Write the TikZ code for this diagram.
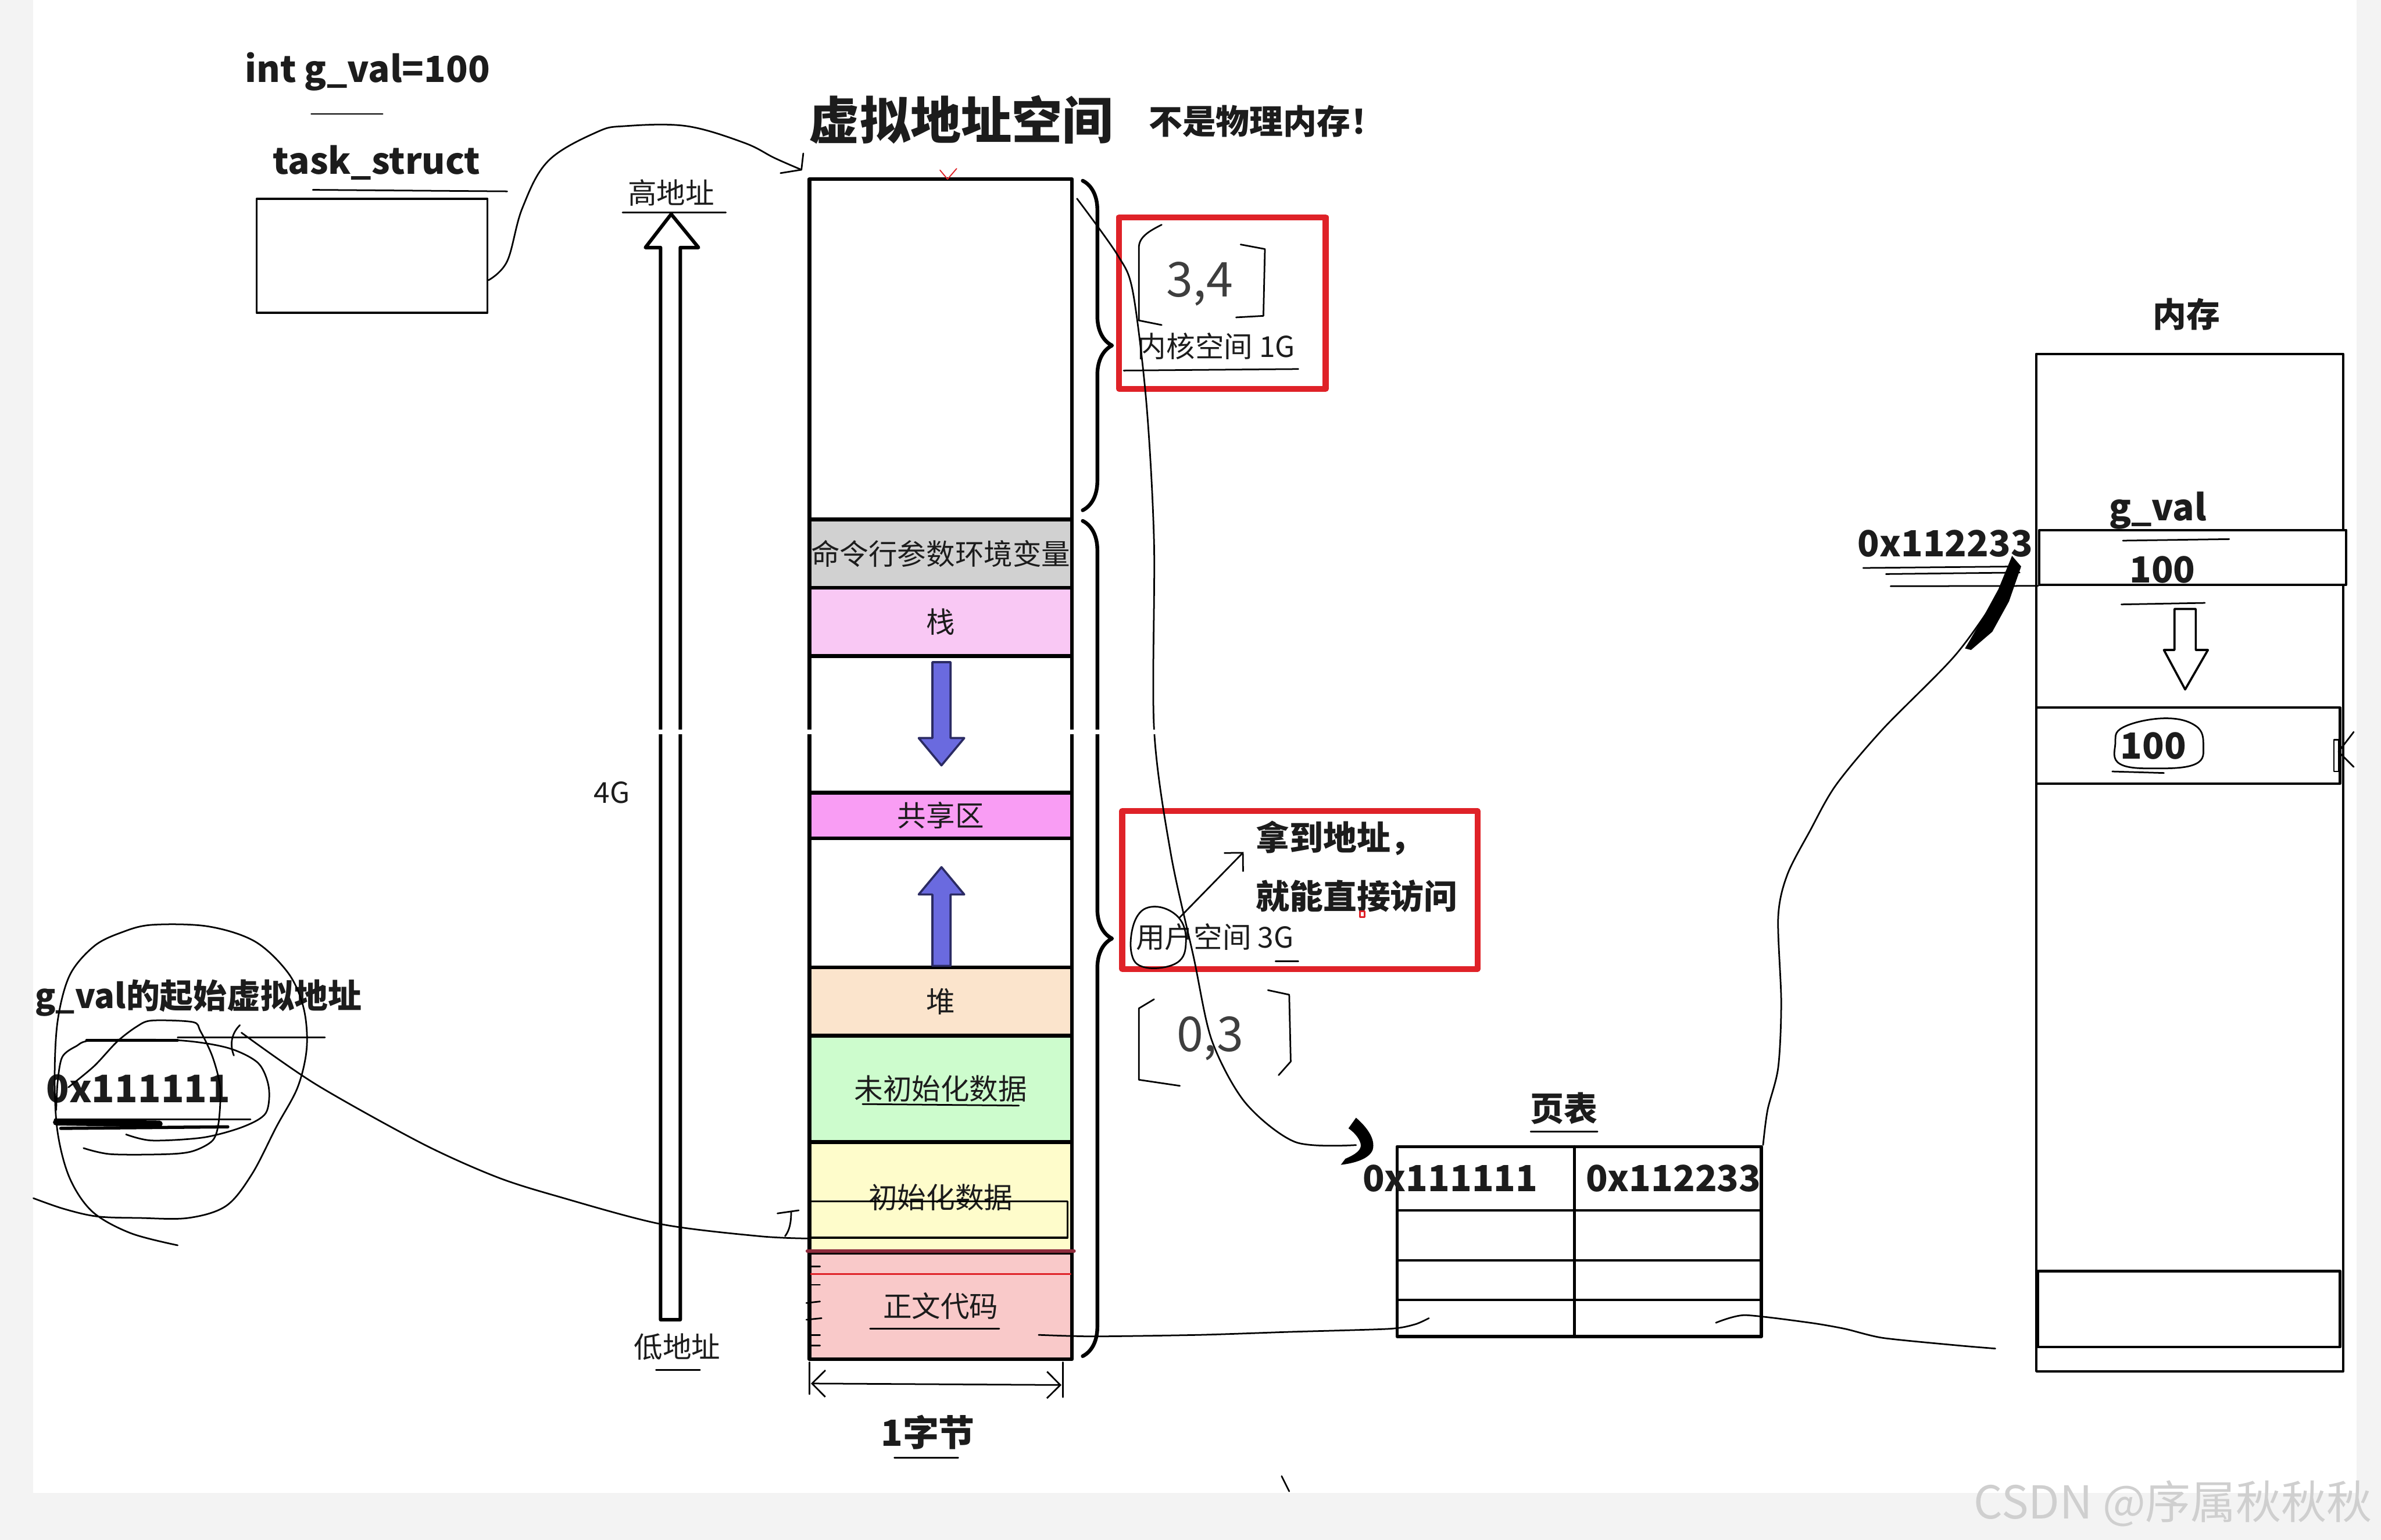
\documentclass[tikz,border=0pt]{standalone}
\usepackage{fontspec}
\setmainfont{Noto Sans CJK SC}
\usepackage{tikz}
\usetikzlibrary{arrows.meta,calc,decorations.pathreplacing}
\definecolor{vaink}{HTML}{1C1C1C}
\definecolor{vared}{HTML}{DF2228}
\definecolor{vadred}{HTML}{8E2B3C}
\definecolor{vacmd}{HTML}{D1D1D1}
\definecolor{vastack}{HTML}{F9C8F4}
\definecolor{vashare}{HTML}{F99DF4}
\definecolor{vaheap}{HTML}{FBE4CC}
\definecolor{vabss}{HTML}{CDFCCD}
\definecolor{vadata}{HTML}{FEFCCB}
\definecolor{vacode}{HTML}{F9C9C9}
\definecolor{vablue}{HTML}{6A6ADF}
\definecolor{vanavy}{HTML}{2B2B63}
\definecolor{vaframe}{HTML}{F3F3F3}
\definecolor{vamark}{HTML}{CFCFCF}

\begin{document}
\begin{tikzpicture}[x=0.02cm,y=-0.02cm,line cap=round,line join=round,
  text=vaink,
  boldlbl/.style={font=\bfseries\fontsize{13.5}{15}\selectfont,inner sep=1pt},
  midlbl/.style={font=\bfseries\fontsize{12.6}{14}\selectfont,inner sep=1pt},
  plainlbl/.style={font=\fontsize{10.8}{12}\selectfont,inner sep=1pt},
  handlbl/.style={font=\fontsize{18}{19}\selectfont,inner sep=0pt,text=vaink!85},
  seg/.style={draw,line width=1.4pt,minimum width={173*0.02cm},inner sep=0pt,
    font=\fontsize{10.8}{12}\selectfont},
  ink/.style={line width=0.6pt},
  cellbox/.style={draw,line width=0.9pt,inner sep=0pt},
  hollow/.style={draw,line width=1.3pt,fill=white},
  brc/.style={decorate,decoration={brace,amplitude=11pt},line width=1.4pt},
  redbox/.style={draw=vared,line width=2.2pt},
  blue/.style={fill=vablue,draw=vanavy,line width=0.8pt}]
\path[use as bounding box] (0,0) rectangle (1568,1014);
\fill[vaframe] (0,0) rectangle (1568,1014);
\fill[white] (22,0) rectangle (1552,983);

% 标题
\node[font=\bfseries\fontsize{19}{20}\selectfont] (vas) at (633,79) {虚拟地址空间};
\node[midlbl] (notpm) at (834,80) {不是物理内存！};

% task_struct
\node[boldlbl] (intg) at (242,47) {int g\_val=100};
\draw[ink] (205,75) -- (252,75);
\node[boldlbl] (tsname) at (248,107) {task\_struct};
\draw[ink] (206,125) -- (334,126);
\node[cellbox,line width=0.8pt,minimum width={152*0.02cm},minimum height={75*0.02cm}] (ts) at (245,168.5) {};

% 高低地址箭头
\node[plainlbl] (hi) at (442,127) {高地址};
\draw[ink] (410,140) -- (478,140);
\draw[hollow] (435,869) -- (435,163) -- (425,163) -- (442,141) -- (460,163) -- (448,163) -- (448,869) -- cycle;
\node[plainlbl] (fourg) at (403,522) {4G};
\node[plainlbl] (lo) at (446,887) {低地址};
\draw[ink] (432,902) -- (461,902);

% 虚拟地址空间各区
\node[seg,minimum height={224*0.02cm}] (kern) at (619.5,230) {};
\node[seg,fill=vacmd,minimum height={45*0.02cm}] (cmd) at (619.5,364.5) {命令行参数环境变量};
\node[seg,fill=vastack,minimum height={45*0.02cm}] (stk) at (619.5,409.5) {栈};
\node[seg,minimum height={90*0.02cm}] (gapa) at (619.5,477) {};
\node[seg,fill=vashare,minimum height={30*0.02cm}] (shr) at (619.5,537) {共享区};
\node[seg,minimum height={85*0.02cm}] (gapb) at (619.5,594.5) {};
\node[seg,fill=vaheap,minimum height={45*0.02cm}] (heap) at (619.5,659.5) {堆};
\node[seg,fill=vabss,minimum height={70*0.02cm}] (bss) at (619.5,717) {未初始化数据};
\node[seg,fill=vadata,minimum height={73*0.02cm}] (data) at (619.5,788.5) {初始化数据};
\node[seg,fill=vacode,minimum height={70*0.02cm}] (code) at (619.5,860) {正文代码};
\draw[line width=1.4pt,vadred] (code.north west) -- (code.north east);
\draw[vared,line width=0.6pt] (534,839) -- (705,839);
\draw[line width=0.7pt] (534,791) -- (703,791) -- (703,815) -- (534,815);
\draw[ink] (568,727) -- (671,728);
\draw[ink] (573,875) -- (658,875);
\draw[ink] (533,834) -- (540,834);
\draw[ink] (533,846) -- (540,846);
\draw[ink] (531,858) -- (540,857);
\draw[ink] (531,869) -- (541,868);
\draw[ink] (533,879) -- (540,879);
\draw[ink] (533,886) -- (540,886);
\draw[blue] (614,436) -- (626,436) -- (626,486) -- (635,486) -- (620,504) -- (605,486) -- (614,486) -- cycle;
\draw[blue] (614,636) -- (626,636) -- (626,589) -- (635,589) -- (620,571) -- (605,589) -- (614,589) -- cycle;
\draw[vared,line width=0.4pt] (619,112) -- (624,118) -- (630,111);

% 宽度 1字节
\draw[ink] (533,897) -- (533,918);
\draw[ink] (700,897) -- (700,920);
\draw[ink,{Straight Barb[length=5pt]}-{Straight Barb[length=5pt]}] (534,911) -- (699,912);
\node[boldlbl] (byte) at (611,943) {1字节};
\draw[ink] (589,960) -- (631,960);

% 内核/用户空间
\draw[brc] (713,119) -- (713,336);
\draw[brc] (713,343) -- (713,893);
\draw[redbox] (737,143) rectangle (873,256);
\draw[ink] (765,148) .. controls (757,152) and (750,156) .. (750,163) -- (750,211) -- (765,214);
\draw[ink] (817,161) -- (833,164) -- (832,208) -- (814,209);
\node[handlbl] (kbrk) at (790,187) {3,4};
\node[plainlbl] (klbl) at (801,228) {内核空间 1G};
\draw[ink] (740,244) -- (855,243);
\draw[redbox] (739,534) rectangle (973,638);
\node[midlbl,anchor=west] (get1) at (825,552) {拿到地址，};
\node[midlbl,anchor=west] (get2) at (825,590) {就能直接访问};
\node[plainlbl] (ulbl) at (800,617) {用户空间 3G};
\draw[ink] (840,633) -- (855,633);
\draw[ink] plot[smooth cycle,tension=0.7] coordinates {(760,597) (776,604) (781,620) (775,634) (754,637) (745,627) (748,605)};
\draw[ink,-{Straight Barb[length=5pt]}] (777,604) -- (819,561);
\draw[vared,line width=0.6pt] (895.5,600) rectangle (898.5,604);
\draw[ink] (760,658) -- (750,664) -- (750,711) -- (777,715);
\draw[ink] (835,652) -- (849,655) -- (850,699) -- (842,708);
\node[handlbl] (ubrk) at (797,684) {0,3};
\draw[ink] (844,972) -- (849,982);

% g_val 的虚拟地址
\node[midlbl,anchor=west] (gvaddr) at (21,657) {g\_val的起始虚拟地址};
\node[boldlbl,font=\bfseries\fontsize{14.2}{15}\selectfont] (gaddr) at (91,717) {0x111111};
\draw[ink] (117,683) -- (214,683);
\draw[line width=1pt] (57,685) -- (117,685);
\draw[line width=2.4pt] (37,739) -- (105,740);
\draw[line width=1.2pt] (40,743) -- (150,742);
\draw[ink] (36,737) -- (165,737);
\draw[ink] plot[smooth,tension=0.55] coordinates {(22,789) (42,796) (64,801) (92,802) (124,802) (149,794) (166,773) (182,742) (196,716) (202,690) (200,664) (190,641) (168,620) (137,610) (100,609) (80,614) (62,623) (46,642) (38,672) (36,710) (38,746) (46,776) (61,798) (86,812) (117,820)};
\draw[ink] plot[smooth] coordinates {(55,756) (73,760) (110,760) (127,758) (140,751) (144,739) (145,716) (140,696) (132,679) (127,673) (100,672) (90,676) (77,686) (62,702) (45,716)};
\draw[ink] plot[smooth] coordinates {(37,731) (38,712) (41,696) (50,689) (62,685) (117,685) (150,690) (170,700) (177,716) (175,733) (160,742) (134,749) (100,751) (83,747)};
\draw[ink] (158,675) .. controls (151,682) and (152,690) .. (154,695);
\coordinate (gsrc) at (159,680);
\coordinate (gdst) at ($(data.west)+(0,27)$);
\draw[ink] plot[smooth,tension=0.5] coordinates {(gsrc) (208,714) (278,753) (327,775) (368,788) (435,806) (500,814) (gdst)};
\draw[ink] (512,799) -- (526,797);
\draw[ink] (521,798) .. controls (521,805) and (520,810) .. (517,814);

% task_struct 指向虚拟地址空间
\coordinate (tsout) at ($(ts.east)+(0,16)$);
\coordinate (kcorner) at ($(kern.north west)+(-4,-5)$);
\draw[ink] plot[smooth,tension=0.6] coordinates {(tsout) (334,172) (344,137) (361,106) (393,87) (412,83) (452,83) (490,94) (510,104) (kcorner)};
\draw[ink] (529,101) -- (kcorner) -- (514,114);

% 页表
\node[midlbl] (ptitle) at (1030,730) {页表};
\draw[ink] (1008,745) -- (1052,745);
\node[draw,line width=1.2pt,minimum width={240*0.02cm},minimum height={125*0.02cm},inner sep=0pt] (pt) at (1040,817.5) {};
\draw[line width=1.1pt] (1037,755) -- (1037,880);
\draw[line width=0.8pt] (920,797) -- (1160,797);
\draw[line width=0.8pt] (920,830) -- (1160,830);
\draw[line width=0.8pt] (920,856) -- (1160,856);
\node[boldlbl] (pva) at (955,776) {0x111111};
\node[boldlbl] (ppa) at (1102,776) {0x112233};
\coordinate (kt) at ($(kern.north east)+(2,14)$);
\draw[ink] plot[smooth,tension=0.5] coordinates {(kt) (736,168) (746,192) (755,266) (760,358) (760,480) (771,562) (786,630) (798,685) (820,726) (853,752) (893,754)};
\fill (893,736) .. controls (900,742) and (906,750) .. (904,757) .. controls (902,763) and (892,766) .. (883,767) -- (886,763) .. controls (893,760) and (897,757) .. (896,753) .. controls (895,749) and (891,745) .. (888,743) -- cycle;
\coordinate (cout) at (684,879);
\coordinate (pin) at (941,868);
\draw[ink] plot[smooth,tension=0.4] coordinates {(cout) (720,880) (790,879) (850,877) (915,875) (932,872) (pin)};

% 内存
\node[midlbl] (mtitle) at (1440,207) {内存};
\node[cellbox,minimum width={202*0.02cm},minimum height={670*0.02cm}] (mem) at (1442,568) {};
\node[cellbox,fill=white,minimum width={202*0.02cm},minimum height={36*0.02cm}] (mg) at (1444,367) {};
\node[cellbox,minimum width={200*0.02cm},minimum height={50*0.02cm}] (mcopy) at (1441,491) {};
\node[cellbox,minimum width={199*0.02cm},minimum height={50*0.02cm}] (mlast) at (1441.5,862) {};
\node[boldlbl] (mgname) at (1421,336) {g\_val};
\draw[ink] (1398,356) -- (1468,355);
\node[boldlbl] (mgval) at (1424,375) {100};
\draw[ink] (1397,398) -- (1452,397);
\draw[line width=0.8pt] (1432,401) -- (1446,401) -- (1446,428) -- (1454,428) -- (1439,454) -- (1425,428) -- (1432,428) -- cycle;
\node[boldlbl] (mcval) at (1418,491) {100};
\draw[ink] plot[smooth cycle,tension=0.7] coordinates {(1398,479) (1425,473) (1446,478) (1451,491) (1446,503) (1420,506) (1396,503) (1393,490)};
\draw[ink] (1391,508) -- (1425,509);
\draw[ink] (1537,487) rectangle (1540,508);
\draw[ink] (1550,482) -- (1540,495) -- (1550,505);
\node[boldlbl] (maddr) at (1281,358) {0x112233};
\draw[ink] (1227,374) -- (1330,373);
\draw[ink] (1242,378) -- (1330,377);
\draw[ink] (1245,386) -- (mg.south west);
\draw[ink] plot[smooth,tension=0.5] coordinates {(pt.north east) (1164,731) (1171,703) (1173,660) (1171,604) (1177,576) (1192,547) (1209,517) (1240,480) (1288,431) (1319,387) (1326,370)};
\fill (1294,427) -- (1304,410) -- (1316,388) -- (1325,366) -- (1331,373) -- (1323,396) -- (1312,416) -- (1298,428) -- cycle;
\coordinate (pout) at (1149,866);
\coordinate (mend) at (1314,888);
\draw[ink] plot[smooth,tension=0.4] coordinates {(1130,871) (pout) (1192,871) (1215,875) (1240,881) (1290,886) (mend)};

% 拼接处的断口
\fill[white] (420,480.5) rectangle (560,483.5);
\fill[white] (680,480.5) rectangle (770,483.5);

\node[font=\fontsize{17}{18}\selectfont,text=vamark] (wm) at (1431,990) {CSDN @序属秋秋秋};
\end{tikzpicture}
\end{document}
